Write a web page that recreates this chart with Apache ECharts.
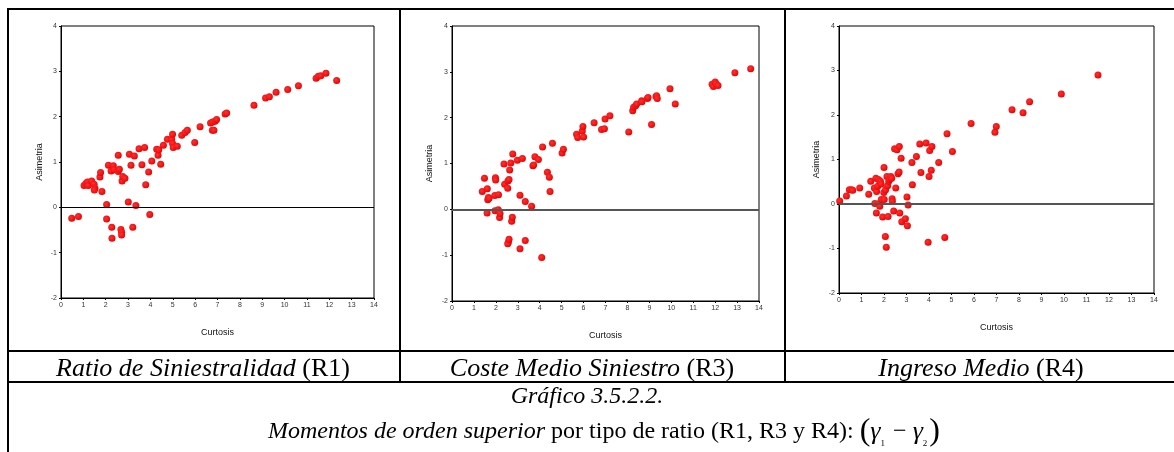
<!DOCTYPE html>
<html>
<head>
<meta charset="utf-8">
<script src="https://cdn.jsdelivr.net/npm/echarts@6/dist/echarts.min.js"></script>
<style>
html,body{margin:0;padding:0;background:#fff;}
#chart{width:1174px;height:452px;}
</style>
</head>
<body>
<div id="chart"></div>
<script>
// ---- Data (Curtosis, Asimetria) ----
const r1Curtosis = [0.48,0.78,1.03,1.12,1.18,1.22,1.37,1.48,1.52,1.49,1.74,1.77,1.83,2.04,2.04,2.12,2.24,2.27,2.28,2.34,2.37,2.56,2.56,2.61,2.68,2.71,2.71,2.73,2.76,2.86,3.01,3.06,3.13,3.21,3.28,3.35,3.49,3.62,3.74,3.79,3.92,3.97,4.06,4.28,4.34,4.37,4.46,4.58,4.76,4.95,4.99,4.99,5.02,5.20,5.40,5.55,5.65,5.98,6.22,6.69,6.78,6.77,6.84,6.89,6.96,7.34,7.41,8.63,9.15,9.32,9.62,10.14,10.62,11.41,11.51,11.62,11.85,12.33];
const r1Asimetria = [-0.24,-0.20,0.48,0.53,0.56,0.48,0.58,0.51,0.42,0.38,0.67,0.77,0.35,0.06,-0.26,0.93,0.80,-0.44,-0.68,0.92,0.83,1.15,0.79,0.84,-0.49,-0.55,-0.61,0.58,0.68,0.64,0.12,1.17,0.93,-0.44,1.13,0.04,1.29,0.94,1.32,0.50,0.78,-0.16,1.02,1.28,1.15,1.27,0.95,1.37,1.50,1.50,1.61,1.41,1.32,1.35,1.59,1.65,1.70,1.43,1.78,1.86,1.88,1.70,1.70,1.90,1.94,2.06,2.08,2.25,2.41,2.44,2.54,2.60,2.68,2.85,2.89,2.90,2.96,2.80];

const r3Curtosis = [1.38,1.48,1.60,1.61,1.63,1.66,1.69,1.95,1.98,1.99,1.96,2.11,2.12,2.17,2.19,2.37,2.40,2.54,2.55,2.57,2.54,2.60,2.63,2.60,2.68,2.72,2.75,2.77,2.98,3.10,3.10,3.21,3.34,3.34,3.63,3.69,3.72,3.78,3.94,4.09,4.13,4.35,4.44,4.47,4.58,5.02,5.08,5.68,5.73,5.94,5.97,6.00,6.48,6.82,6.95,6.98,7.20,8.06,8.24,8.28,8.37,8.42,8.65,8.66,8.91,8.94,9.10,9.30,9.33,9.36,9.94,10.18,11.86,11.92,12.00,12.04,12.13,12.90,13.62];
const r3Asimetria = [0.39,0.68,-0.08,0.45,0.21,0.26,0.24,0.30,0.69,0.64,-0.03,-0.01,0.32,-0.18,-0.09,0.99,0.55,0.46,0.62,-0.72,-0.75,0.65,0.86,-0.65,1.01,-0.26,-0.17,1.21,1.07,0.31,-0.86,1.11,0.17,-0.68,0.07,0.95,0.97,1.15,1.09,-1.05,1.36,0.81,0.70,0.39,1.44,1.23,1.31,1.64,1.57,1.71,1.81,1.58,1.89,1.74,1.76,1.97,2.04,1.69,2.15,2.23,2.26,2.30,2.37,2.35,2.42,2.44,1.85,2.46,2.48,2.42,2.63,2.30,2.73,2.68,2.78,2.74,2.70,2.98,3.07];

const r4Curtosis = [0.03,0.33,0.46,0.55,0.61,0.92,1.32,1.41,1.59,1.57,1.64,1.66,1.67,1.72,1.75,1.78,1.81,1.84,1.87,1.88,1.94,1.99,2.00,2.01,2.06,2.07,2.10,2.13,2.16,2.18,2.21,2.25,2.30,2.34,2.36,2.37,2.43,2.47,2.52,2.58,2.62,2.67,2.68,2.70,2.76,2.79,2.95,3.02,3.04,3.07,3.24,3.26,3.44,3.59,3.64,3.87,3.96,4.00,4.03,4.10,4.13,4.43,4.70,4.80,5.04,5.87,6.93,6.99,7.69,8.18,8.47,9.88,11.51];
const r4Asimetria = [0.07,0.18,0.32,0.32,0.31,0.36,0.22,0.51,0.01,0.36,0.58,-0.20,0.28,0.40,0.55,0.01,-0.05,0.51,0.45,0.10,-0.29,0.26,0.82,0.10,-0.73,0.32,-0.97,0.62,0.41,-0.28,0.51,0.55,0.62,0.58,0.12,0.06,-0.16,1.24,0.36,1.22,0.68,0.72,1.29,-0.20,1.03,-0.40,-0.33,0.16,-0.49,-0.02,0.93,0.43,1.07,1.35,0.71,1.37,-0.86,0.62,1.20,0.76,1.29,0.93,-0.75,1.58,1.18,1.81,1.61,1.74,2.12,2.05,2.30,2.47,2.90];

const xTickLabels = ['0','1','2','3','4','5','6','7','8','9','10','11','12','13','14'];
const yTickLabels = ['-2','-1','0','1','2','3','4'];
const xName = 'Curtosis';
const yName = 'Asimetria';
const panelTitles = [
  ['Ratio de Siniestralidad', ' (R1)'],
  ['Coste Medio Siniestro', ' (R3)'],
  ['Ingreso Medio', ' (R4)']
];
const figureLabel = 'Gráfico 3.5.2.2.';
const captionItalic = 'Momentos de orden superior';
const captionNormal = ' por tipo de ratio (R1, R3 y R4): ';

// ---- Layout ----
const grids = [
  {left: 61, top: 26, width: 313, height: 272},
  {left: 452, top: 26, width: 307, height: 275},
  {left: 839, top: 26, width: 315, height: 267}
];
const zeroLine = [
  {color: '#000', width: 1},
  {color: '#555', width: 2},
  {color: '#555', width: 2}
];
const nameGaps = [[30, 17], [30, 18], [30, 18]];
const seriesData = [
  [r1Curtosis, r1Asimetria],
  [r3Curtosis, r3Asimetria],
  [r4Curtosis, r4Asimetria]
];

const dotColor = {
  type: 'radial', x: 0.4, y: 0.4, r: 0.65,
  colorStops: [{offset: 0, color: '#ff3030'}, {offset: 0.7, color: '#f21010'}, {offset: 1, color: '#d40000'}]
};

const xAxes = [], yAxes = [], series = [];
grids.forEach((g, i) => {
  xAxes.push({
    gridIndex: i, type: 'value', min: 0, max: 14, interval: 1,
    name: xName, nameLocation: 'middle', nameGap: nameGaps[i][0],
    nameTextStyle: {fontFamily: 'Liberation Sans', fontSize: 9, color: '#111'},
    axisLine: {show: true, onZero: false, lineStyle: {color: '#000', width: 1}},
    axisTick: {show: true, length: 2, lineStyle: {color: '#000'}},
    axisLabel: {fontFamily: 'Liberation Sans', fontSize: 7, color: '#333', margin: 4,
      formatter: v => xTickLabels[Math.round(v)]},
    splitLine: {show: false}
  });
  yAxes.push({
    gridIndex: i, type: 'value', min: -2, max: 4, interval: 1,
    name: yName, nameLocation: 'middle', nameGap: nameGaps[i][1],
    nameTextStyle: {fontFamily: 'Liberation Sans', fontSize: 9, color: '#111'},
    axisLine: {show: true, onZero: false, lineStyle: {color: '#000', width: 1}},
    axisTick: {show: true, length: 2, lineStyle: {color: '#000'}},
    axisLabel: {fontFamily: 'Liberation Sans', fontSize: 7, color: '#333', margin: 4,
      formatter: v => yTickLabels[Math.round(v) + 2]},
    splitLine: {show: false}
  });
  const xs = seriesData[i][0], ys = seriesData[i][1];
  series.push({
    type: 'scatter', xAxisIndex: i, yAxisIndex: i,
    symbol: 'circle', symbolSize: 7,
    itemStyle: {color: dotColor, opacity: 1},
    data: xs.map((x, k) => [x, ys[k]]),
    markLine: {
      silent: true, symbol: ['none', 'none'], label: {show: false},
      lineStyle: {color: zeroLine[i].color, width: zeroLine[i].width, type: 'solid'},
      data: [{yAxis: 0}]
    },
    z: 3
  });
});

// ---- Table frame and captions ----
const lw = 2;
function hline(y, x1, x2) { return {type: 'line', shape: {x1: x1, y1: y, x2: x2, y2: y}, style: {stroke: '#000', lineWidth: lw}, z: 10}; }
function vline(x, y1, y2) { return {type: 'line', shape: {x1: x, y1: y1, x2: x, y2: y2}, style: {stroke: '#000', lineWidth: lw}, z: 10}; }

const serif = 'Liberation Serif';
const titleRich = {
  i: {fontFamily: serif, fontStyle: 'italic', fontSize: 26, color: '#000'},
  n: {fontFamily: serif, fontStyle: 'normal', fontSize: 26, color: '#000'}
};
const colCenters = [203, 592, 981];
const graphics = [
  hline(9, 7, 1174),
  hline(351, 7, 1174),
  hline(382, 7, 1174),
  vline(8, 8, 452),
  vline(400, 8, 382),
  vline(785, 8, 382)
];
panelTitles.forEach((t, i) => {
  graphics.push({
    type: 'text', x: colCenters[i], y: 369, z: 11,
    style: {text: '{i|' + t[0] + '}{n|' + t[1] + '}', rich: titleRich, align: 'center', verticalAlign: 'middle'}
  });
});
graphics.push({
  type: 'text', x: 587, y: 397, z: 11,
  style: {text: '{i|' + figureLabel + '}', rich: {i: {fontFamily: serif, fontStyle: 'italic', fontSize: 24, color: '#000'}}, align: 'center', verticalAlign: 'middle'}
});
graphics.push({
  type: 'text', x: 604, y: 432, z: 11,
  style: {
    text: '{i|' + captionItalic + '}{n|' + captionNormal + '}{p|(}{g|γ}{s|1}{m| − }{g|γ}{s|2}{p|)}',
    align: 'center', verticalAlign: 'middle',
    rich: {
      i: {fontFamily: serif, fontStyle: 'italic', fontSize: 24, color: '#000'},
      n: {fontFamily: serif, fontStyle: 'normal', fontSize: 24, color: '#000'},
      m: {fontFamily: serif, fontStyle: 'normal', fontSize: 24, color: '#000'},
      p: {fontFamily: serif, fontStyle: 'normal', fontSize: 32, color: '#000'},
      g: {fontFamily: serif, fontStyle: 'italic', fontSize: 26, color: '#000'},
      s: {fontFamily: serif, fontStyle: 'normal', fontSize: 9, color: '#000', verticalAlign: 'bottom', padding: [0, 2, 0, 0]}
    }
  }
});

const chart = echarts.init(document.getElementById('chart'), null, {renderer: 'canvas'});
chart.setOption({
  animation: false,
  backgroundColor: '#fff',
  grid: grids.map(g => Object.assign({show: true, borderColor: '#000', borderWidth: 1, backgroundColor: 'transparent'}, g)),
  xAxis: xAxes,
  yAxis: yAxes,
  series: series,
  graphic: graphics
});
</script>
</body>
</html>
